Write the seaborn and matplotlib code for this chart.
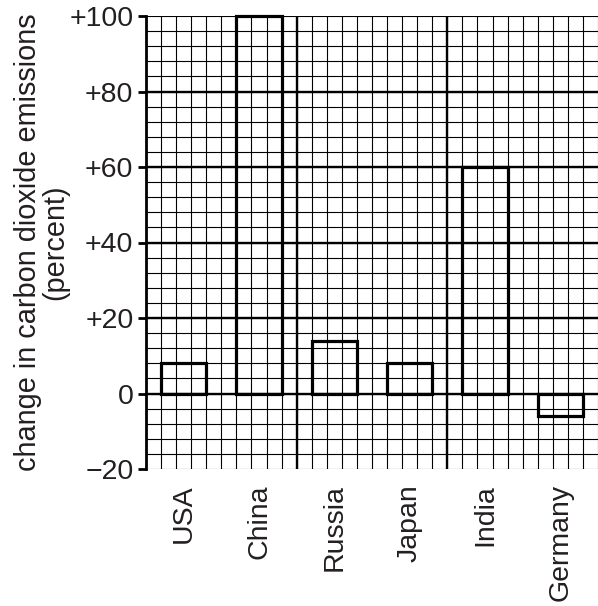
import matplotlib
matplotlib.use("Agg")
import matplotlib.pyplot as plt
from matplotlib.ticker import MultipleLocator
import seaborn as sns

sns.set_style("white")
plt.rcParams['font.family'] = ['Liberation Sans', 'DejaVu Sans']
plt.rcParams['text.color'] = '#231f20'
plt.rcParams['axes.labelcolor'] = '#231f20'
plt.rcParams['ytick.color'] = 'black'
plt.rcParams['xtick.color'] = 'black'

# data
countries = ["USA", "China", "Russia", "Japan", "India", "Germany"]
change_pct = [8, 100, 14, 8, 60, -6]
y_ticks = [-20, 0, 20, 40, 60, 80, 100]
y_tick_labels = ["\u221220", "0", "+20", "+40", "+60", "+80", "+100"]
y_label = "change in carbon dioxide emissions\n(percent)"


def draw_graph_paper(ax):
    """Thin grid every small square, heavier lines every 20 % and every 2 bars."""
    ax.yaxis.set_minor_locator(MultipleLocator(4))
    ax.yaxis.remove_overlapping_locs = False
    ax.set_xticks([i * 0.2 - 0.5 for i in range(31)], minor=True)
    ax.grid(which="minor", color="black", linewidth=0.8)
    ax.grid(which="major", axis="x", visible=False)
    ax.grid(which="major", axis="y", visible=False)
    for y in y_ticks[1:-1]:
        ax.axhline(y, color="black", linewidth=1.7, zorder=1)
    for x in [1.5, 3.5]:
        ax.axvline(x, color="black", linewidth=1.7, zorder=1)
    ax.set_axisbelow(True)


def main():
    fig = plt.figure(figsize=(5.98, 6.06), dpi=100)
    ax = fig.add_axes([146 / 598, 1 - 469 / 606, 452 / 598, 453 / 606])

    sns.barplot(x=countries, y=change_pct, color="black", fill=False,
                width=0.6, linewidth=2.3, errorbar=None, ax=ax, zorder=3)
    for patch in ax.patches:
        patch.set_clip_on(False)

    ax.set_xlim(-0.5, 5.5)
    ax.set_ylim(-20, 100)
    draw_graph_paper(ax)

    ax.set_yticks(y_ticks)
    ax.set_yticklabels(y_tick_labels, color="#231f20")
    ax.tick_params(axis="y", which="major", direction="out", length=6,
                   width=2, pad=3, labelsize=20.5, left=True)
    ax.tick_params(axis="y", which="minor", length=0)
    ax.tick_params(axis="x", which="both", length=0, pad=11, labelsize=20.5)
    plt.setp(ax.get_xticklabels(), rotation=90, color="#231f20")

    for side in ["top", "right", "bottom"]:
        ax.spines[side].set_visible(False)
    ax.spines["left"].set_color("black")
    ax.spines["left"].set_linewidth(2)

    ax.set_xlabel("")
    ax.set_ylabel(y_label, fontsize=20.8, labelpad=0, linespacing=0.95)

    fig.savefig("out.png", dpi=100)


if __name__ == "__main__":
    main()
